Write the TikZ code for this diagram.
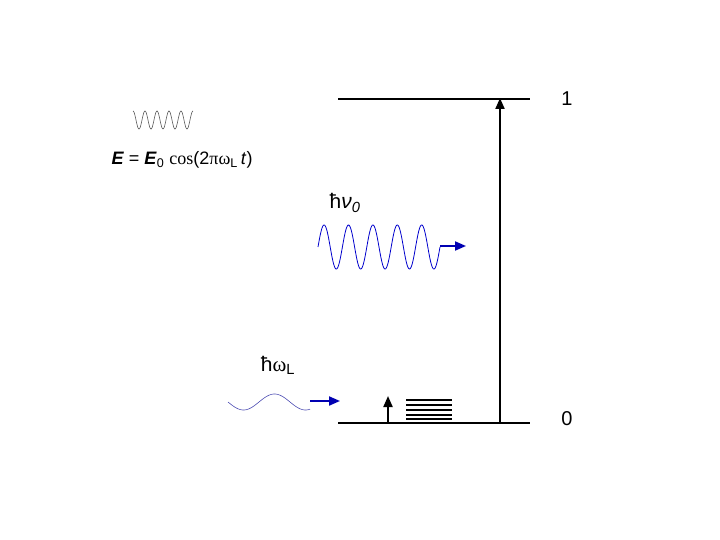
\documentclass[tikz,border=0pt]{standalone}
\usepackage{fontspec}
\setmainfont{Liberation Sans}
\newfontfamily\grk{Liberation Serif}
\usetikzlibrary{arrows.meta}
\begin{document}
\begin{tikzpicture}[x=1pt,y=-1pt,
  lvl/.style={line width=2.6pt},
  arr/.style={-{Triangle[length=11pt,width=9pt]},line width=2pt},
  barr/.style={-{Triangle[length=11pt,width=9pt]},line width=2pt,blue!70!black}]
\useasboundingbox (0,0) rectangle (720,540);
\coordinate (l1a) at (338,99); \coordinate (l1b) at (530,99);
\coordinate (l0a) at (338,423); \coordinate (l0b) at (530,423);
\draw[lvl] (l1a) -- (l1b);
\draw[lvl] (l0a) -- (l0b);
\coordinate (ub) at (500,423); \coordinate (ut) at (500,98);
\draw[arr] (ub) -- (ut);
\node (n1) at (567,99) {\fontsize{20}{24}\selectfont 1};
\node (n0) at (567,419) {\fontsize{20}{24}\selectfont 0};
% small wave
\draw[gray!70!black,line width=0.6pt,domain=0:60,samples=150,smooth] plot (133+\x,{120-9*cos(\x*30)});
\node (eq) at (182,160) {\fontsize{18}{21}\selectfont\textbf{\textit{E}} = \textbf{\textit{E}}\textsubscript{0} {\grk cos}(2{\grk πω}\textsubscript{L}\,\textit{t})};
% big wave
\node (nu) at (345,203) {\fontsize{21}{26}\selectfont ħ\textit{ν}\textsubscript{\textit{0}}};
\draw[blue!80!black,line width=0.8pt,domain=0:122,samples=300,smooth] plot (318+\x,{247-22*sin(\x*14.754)});
\coordinate (bwa) at (440,246); \coordinate (bwb) at (466,246);
\draw[barr] (bwa) -- (bwb);
% low wave
\node (wl) at (278,365) {\fontsize{21}{26}\selectfont ħ{\grk ω}\textsubscript{L}};
\draw[blue!40!gray,line width=0.6pt,domain=0:82,samples=150,smooth] plot (228+\x,{402+8*sin(\x*5.806)});
\coordinate (lwa) at (310,401); \coordinate (lwb) at (340,401);
\draw[barr] (lwa) -- (lwb);
% small arrow and stack
\coordinate (sa) at (388,423); \coordinate (sb) at (388,396);
\draw[arr] (sa) -- (sb);
\foreach \yy in {400,405,410,415,419} \draw[line width=1.2pt] (406,\yy) -- (452,\yy);
\end{tikzpicture}
\end{document}
